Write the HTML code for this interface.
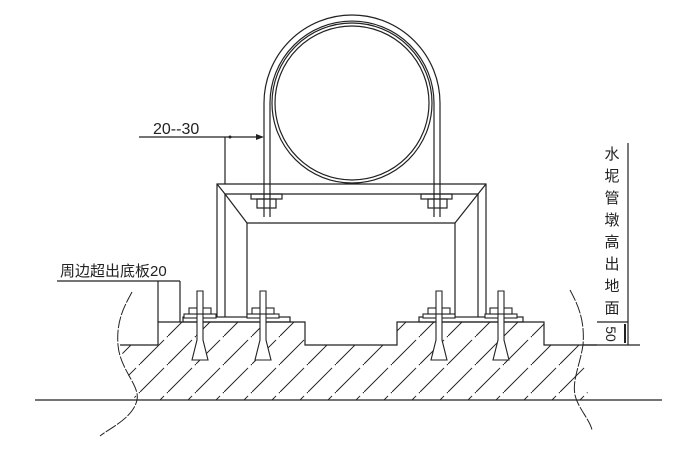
<!DOCTYPE html>
<html><head><meta charset="utf-8"><style>
html,body{margin:0;padding:0;background:#fff;}
svg{display:block;}
text{font-family:"Liberation Sans","Noto Sans CJK SC",sans-serif;fill:#222;}
</style></head><body>
<svg width="700" height="466" viewBox="0 0 700 466" xmlns="http://www.w3.org/2000/svg">
<defs>
<pattern id="h" patternUnits="userSpaceOnUse" width="28" height="28">
<line x1="0" y1="28" x2="28" y2="0" stroke="#222" stroke-width="1" stroke-dasharray="34 4"/>
</pattern>
<clipPath id="c"><path d="M120,345 L158,345 L158,322 L305,322 L305,345 L397,345 L397,322 L544,322 L544,345 L585,345 L588,400 L135,400 Z"/></clipPath>
</defs>
<g fill="none" stroke="#222" stroke-width="1.2">
<rect x="100" y="300" width="500" height="110" fill="url(#h)" stroke="none" clip-path="url(#c)"/>
<line x1="35" y1="400" x2="662" y2="400"/>
<path d="M120,345 L158,345 L158,322 L305,322 L305,345 L397,345 L397,322 L544,322 L544,345 L597,345"/>
<line x1="597" y1="322" x2="628" y2="322"/>
<line x1="583" y1="345" x2="640" y2="345"/>
<line x1="57" y1="281" x2="180" y2="281"/>
<line x1="158" y1="281" x2="158" y2="322"/>
<line x1="180" y1="281" x2="180" y2="322"/>
<path d="M132,292 C125,305 116,320 118,345 C120,370 140,385 137,400 C133,418 110,428 100,436" stroke-dasharray="12 1.5" stroke-width="1"/>
<path d="M570,290 C578,305 585,320 583,345 C580,365 572,380 575,395 C578,408 590,420 592,430" stroke-dasharray="12 1.5" stroke-width="1"/>
<rect x="183" y="317" width="107" height="5"/>
<rect x="419" y="317" width="104" height="5"/>
<path d="M217,317 L217,184 L486,184 L486,317"/>
<path d="M225,317 L225,194 L478,194 L478,317"/>
<path d="M247,317 L247,223 L455,223 L455,317"/>
<line x1="225" y1="194" x2="247" y2="223"/>
<line x1="478" y1="194" x2="455" y2="223"/>
<line x1="217" y1="184" x2="225" y2="194"/>
<line x1="486" y1="184" x2="478" y2="194"/>
<circle cx="352" cy="103" r="80"/>
<circle cx="352" cy="103" r="77"/>
<path d="M264,217 L264,103 A88,88 0 0 1 440,103 L440,217"/>
<path d="M270,217 L270,103 A82,82 0 0 1 434,103 L434,217"/>
<rect x="251" y="194" width="31" height="5"/><rect x="257" y="199" width="19" height="9"/>
<rect x="421" y="194" width="31" height="5"/><rect x="428" y="199" width="19" height="9"/>
<line x1="139" y1="137" x2="262" y2="137"/>
<line x1="225" y1="137" x2="225" y2="184"/>
<line x1="628" y1="143" x2="628" y2="345"/>
<line x1="625" y1="324" x2="625" y2="343" stroke-width="2"/>
</g>
<polygon points="264,137 256,134 256,140" fill="#222"/>
<circle cx="230" cy="137" r="1.5" fill="#222"/>
<g fill="#fff" stroke="#222" stroke-width="1.1">
<g id="b">
<rect x="184" y="314" width="32" height="4"/>
<rect x="189" y="308" width="22" height="6"/>
<path d="M197,291 L203,291 L203,340 L208,360 L192,360 L197,340 Z"/>
<line x1="197" y1="314" x2="203" y2="314"/>
</g>
<use href="#b" x="63"/>
<use href="#b" x="239"/>
<use href="#b" x="301"/>
</g>
<text x="153" y="134" font-size="16">20--30</text>
<text x="60" y="276" font-size="15">周边超出底板20</text>
<g font-size="15" text-anchor="middle">
<text x="612" y="159">水</text>
<text x="612" y="181">坭</text>
<text x="612" y="203">管</text>
<text x="612" y="225">墩</text>
<text x="612" y="247">高</text>
<text x="612" y="269">出</text>
<text x="612" y="291">地</text>
<text x="612" y="313">面</text>
<text x="0" y="0" transform="translate(606,334) rotate(90)" font-size="14">50</text>
</g>
</svg>
</body></html>
